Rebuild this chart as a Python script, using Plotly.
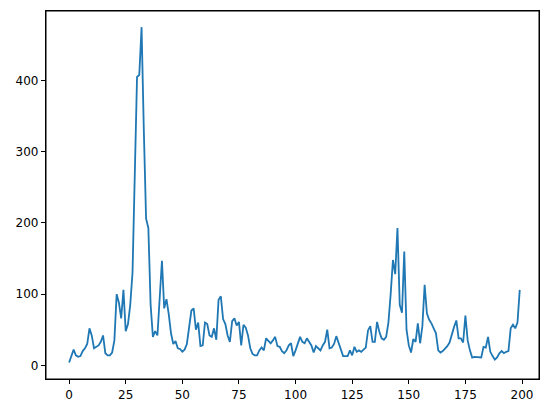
import plotly.graph_objects as go

y_values = [
    4, 12, 22, 14, 12, 13, 20, 24, 30, 52,
    42, 24, 26, 28, 33, 42, 17, 14, 14, 18,
    35, 100, 88, 66, 106, 48, 58, 85, 130, 270,
    405, 408, 475, 330, 206, 193, 85, 40, 48, 42,
    100, 147, 80, 93, 72, 45, 30, 34, 24, 23,
    19, 22, 30, 55, 77, 80, 50, 60, 27, 28,
    60, 58, 42, 40, 52, 36, 92, 97, 65, 58,
    42, 33, 62, 66, 56, 61, 28, 57, 53, 42,
    24, 16, 14, 14, 21, 25, 21, 38, 35, 31,
    35, 40, 27, 26, 20, 17, 21, 28, 31, 13,
    21, 30, 40, 33, 31, 38, 33, 28, 18, 27,
    24, 21, 28, 33, 50, 24, 25, 30, 41, 31,
    21, 13, 13, 13, 21, 14, 26, 19, 21, 19,
    22, 25, 49, 55, 33, 33, 61, 47, 38, 36,
    40, 60, 100, 148, 128, 193, 85, 74, 160, 50,
    28, 18, 37, 33, 59, 31, 55, 113, 73, 64,
    59, 52, 45, 21, 18, 20, 23, 27, 32, 45,
    54, 63, 38, 38, 32, 70, 35, 21, 11, 12,
    12, 12, 11, 26, 25, 40, 19, 13, 8, 11,
    17, 20, 17, 19, 20, 52, 57, 52, 60, 106,
]
x_values = list(range(len(y_values)))

x_ticks = [0, 25, 50, 75, 100, 125, 150, 175, 200]
y_ticks = [0, 100, 200, 300, 400]

fig = go.Figure()
fig.add_trace(go.Scatter(
    x=x_values, y=y_values, mode="lines",
    line=dict(color="#1f77b4", width=1.8),
    showlegend=False,
))

axis_common = dict(
    showline=True, mirror=True, linecolor="#000000", linewidth=1.2,
    ticks="outside", ticklen=4, tickwidth=1.2, tickcolor="#000000",
    showgrid=False, zeroline=False, automargin=False,
    tickfont=dict(family="DejaVu Sans", size=12, color="black"),
)

# page body has an 8px default margin; figure sized to fit the 552x413 window
fig.update_layout(
    width=536, height=397,
    margin=dict(l=38, r=5, t=3, b=26),
    paper_bgcolor="white", plot_bgcolor="white",
    xaxis=dict(range=[-10.2, 207.5], tickvals=x_ticks, **axis_common),
    yaxis=dict(range=[-19.2, 497.7], tickvals=y_ticks, **axis_common),
    shapes=[dict(type="rect", xref="paper", yref="paper", x0=0, y0=0, x1=1, y1=1,
                 line=dict(color="black", width=1), fillcolor="rgba(0,0,0,0)", layer="above")],
)

fig.write_html("out.html")
